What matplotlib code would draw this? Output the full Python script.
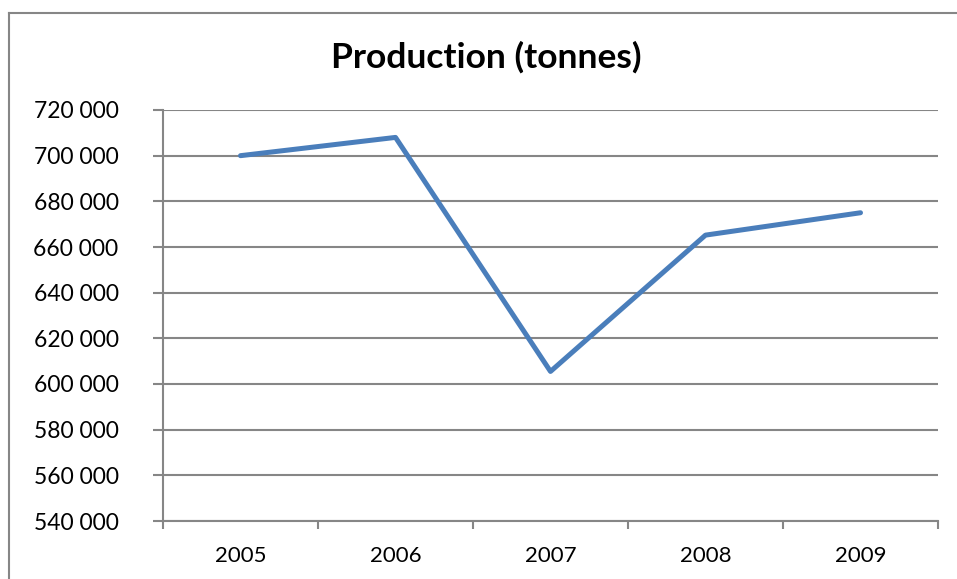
import matplotlib
matplotlib.use("Agg")
import matplotlib.pyplot as plt
from matplotlib.ticker import FuncFormatter, FixedLocator
from matplotlib.lines import Line2D

years = ["2005", "2006", "2007", "2008", "2009"]
production = [700000, 708000, 605500, 665200, 675000]
y_ticks = [540000, 560000, 580000, 600000, 620000, 640000, 660000, 680000, 700000, 720000]
title = "Production (tonnes)"

plt.rcParams['font.family'] = ['Lato', 'DejaVu Sans']

fig = plt.figure(figsize=(9.57, 5.79), dpi=100)
W, H = 957, 579
ax = fig.add_axes([163 / W, (H - 521) / H, (938 - 163) / W, (521 - 110) / H])

grey = "#868686"
x = list(range(len(years)))
ax.plot(x, production, color="#4A7EBB", linewidth=3.6, solid_capstyle="round",
        solid_joinstyle="round", zorder=3)

ax.set_xlim(-0.5, len(years) - 0.5)
ax.set_ylim(y_ticks[0], y_ticks[-1])
ax.yaxis.set_major_locator(FixedLocator(y_ticks))
ax.yaxis.set_major_formatter(FuncFormatter(lambda v, p: f"{int(v):,}".replace(",", " ")))
ax.grid(axis="y", color=grey, linewidth=1.5, zorder=1)

ax.xaxis.set_major_locator(FixedLocator([i - 0.5 for i in range(len(years) + 1)]))
ax.xaxis.set_major_formatter(FuncFormatter(lambda v, p: ""))
ax.xaxis.set_minor_locator(FixedLocator(x))
ax.set_xticklabels(years, minor=True)
ax.tick_params(axis="x", which="major", length=6, width=1.5, color=grey, direction="out")
ax.tick_params(axis="x", which="minor", length=0, pad=18, labelsize=16)
ax.tick_params(axis="y", length=7, width=1.5, color=grey, direction="out", pad=25, labelsize=16.5)

for s in ["top", "right"]:
    ax.spines[s].set_visible(False)
for s in ["left", "bottom"]:
    ax.spines[s].set_color(grey)
    ax.spines[s].set_linewidth(1.5)

fig.text(486 / W, 1 - 57 / H, title, ha="center", va="center", fontsize=25.5, fontweight="bold")

# chart border
bx0, by0 = 8.5 / W, 1 - 12.5 / H
fig.add_artist(Line2D([bx0, 1.01], [by0, by0], transform=fig.transFigure, color=grey, linewidth=1.5))
fig.add_artist(Line2D([bx0, bx0], [by0, -0.01], transform=fig.transFigure, color=grey, linewidth=1.5))

fig.savefig("out.png", dpi=100)
